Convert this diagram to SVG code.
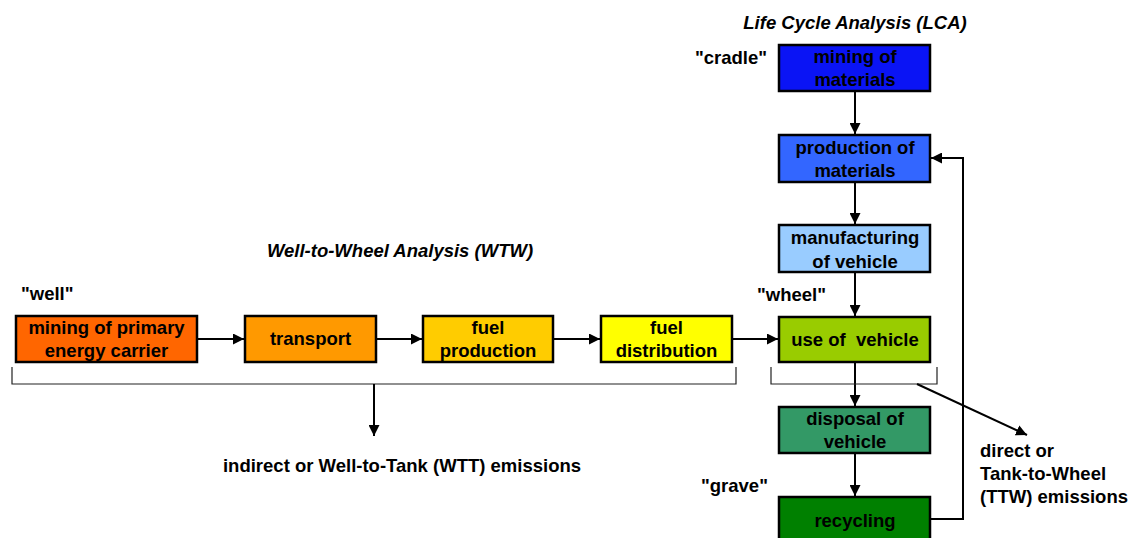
<svg xmlns="http://www.w3.org/2000/svg" width="1128" height="538" viewBox="0 0 1128 538">
<style>
  .box { stroke: #000; stroke-width: 2.5; }
  .t { font-family: "Liberation Sans", Arial, sans-serif; font-weight: bold; font-size: 18.5px; fill: #000; }
  .c { text-anchor: middle; }
  .it { font-style: italic; }
  .con { stroke: #000; stroke-width: 2; fill: none; }
  .br { stroke: #222; stroke-width: 1.2; fill: none; }
</style>
<defs>
  <marker id="ah" viewBox="0 0 10 10" refX="10" refY="5" markerWidth="5.5" markerHeight="5.5" orient="auto" markerUnits="strokeWidth">
    <path d="M0,0 L10,5 L0,10 z" fill="#000"/>
  </marker>
</defs>
<rect width="1128" height="538" fill="#fff"/>

<text class="t it c" x="855" y="29">Life Cycle Analysis (LCA)</text>
<text class="t it c" x="400" y="257">Well-to-Wheel Analysis (WTW)</text>
<text class="t" x="695" y="64">"cradle"</text>
<text class="t" x="21" y="300">"well"</text>
<text class="t" x="757" y="301">"wheel"</text>
<text class="t" x="701" y="492">"grave"</text>
<text class="t c" x="402" y="472">indirect or Well-to-Tank (WTT) emissions</text>
<text class="t" x="980" y="457">direct or</text>
<text class="t" x="980" y="480">Tank-to-Wheel</text>
<text class="t" x="980" y="503">(TTW) emissions</text>

<g id="connectors">
  <line class="con" x1="197" y1="339" x2="244" y2="339" marker-end="url(#ah)"/>
  <line class="con" x1="376" y1="339" x2="422" y2="339" marker-end="url(#ah)"/>
  <line class="con" x1="553" y1="339" x2="600" y2="339" marker-end="url(#ah)"/>
  <line class="con" x1="732" y1="339" x2="778" y2="339" marker-end="url(#ah)"/>
  <line class="con" x1="855" y1="91" x2="855" y2="134" marker-end="url(#ah)"/>
  <line class="con" x1="855" y1="182" x2="855" y2="224" marker-end="url(#ah)"/>
  <line class="con" x1="855" y1="272" x2="855" y2="316" marker-end="url(#ah)"/>
  <line class="con" x1="855" y1="362" x2="855" y2="406" marker-end="url(#ah)"/>
  <line class="con" x1="855" y1="453" x2="855" y2="496" marker-end="url(#ah)"/>
  <polyline class="con" points="930,519 963,519 963,158 931,158" marker-end="url(#ah)"/>
  <polyline class="br" points="12,367 12,384 736,384 736,367"/>
  <polyline class="br" points="771,367 771,384 937,384 937,367"/>
  <line class="con" x1="374" y1="384" x2="374" y2="436" marker-end="url(#ah)"/>
  <line class="con" x1="917" y1="384" x2="1027" y2="435" marker-end="url(#ah)"/>
</g>

<g id="mining-primary">
  <rect class="box" x="16" y="316" width="181" height="46" fill="#FF6600"/>
  <text class="t c" x="106.5" y="334">mining of primary</text>
  <text class="t c" x="106.5" y="357">energy carrier</text>
</g>
<g id="transport">
  <rect class="box" x="245" y="316" width="131" height="46" fill="#FF9900"/>
  <text class="t c" x="310.5" y="345">transport</text>
</g>
<g id="fuel-production">
  <rect class="box" x="423" y="316" width="130" height="46" fill="#FFCC00"/>
  <text class="t c" x="488" y="334">fuel</text>
  <text class="t c" x="488" y="357">production</text>
</g>
<g id="fuel-distribution">
  <rect class="box" x="601" y="316" width="131" height="46" fill="#FFFF00"/>
  <text class="t c" x="666.5" y="334">fuel</text>
  <text class="t c" x="666.5" y="357">distribution</text>
</g>
<g id="mining-materials">
  <rect class="box" x="779" y="45" width="151" height="46" fill="#0A14F5"/>
  <text class="t c" x="855" y="63">mining of</text>
  <text class="t c" x="855" y="86">materials</text>
</g>
<g id="production-materials">
  <rect class="box" x="779" y="135" width="151" height="47" fill="#3366FF"/>
  <text class="t c" x="855" y="154">production of</text>
  <text class="t c" x="855" y="177">materials</text>
</g>
<g id="manufacturing">
  <rect class="box" x="779" y="225" width="151" height="47" fill="#99CCFF"/>
  <text class="t c" x="855" y="244">manufacturing</text>
  <text class="t c" x="855" y="268">of vehicle</text>
</g>
<g id="use-vehicle">
  <rect class="box" x="779" y="317" width="151" height="45" fill="#99CC00"/>
  <text class="t c" x="855" y="346" style="white-space:pre">use of  vehicle</text>
</g>
<g id="disposal">
  <rect class="box" x="779" y="407" width="151" height="46" fill="#339966"/>
  <text class="t c" x="855" y="425">disposal of</text>
  <text class="t c" x="855" y="448">vehicle</text>
</g>
<g id="recycling">
  <rect class="box" x="779" y="497" width="151" height="46" fill="#008000"/>
  <text class="t c" x="855" y="527">recycling</text>
</g>
</svg>
